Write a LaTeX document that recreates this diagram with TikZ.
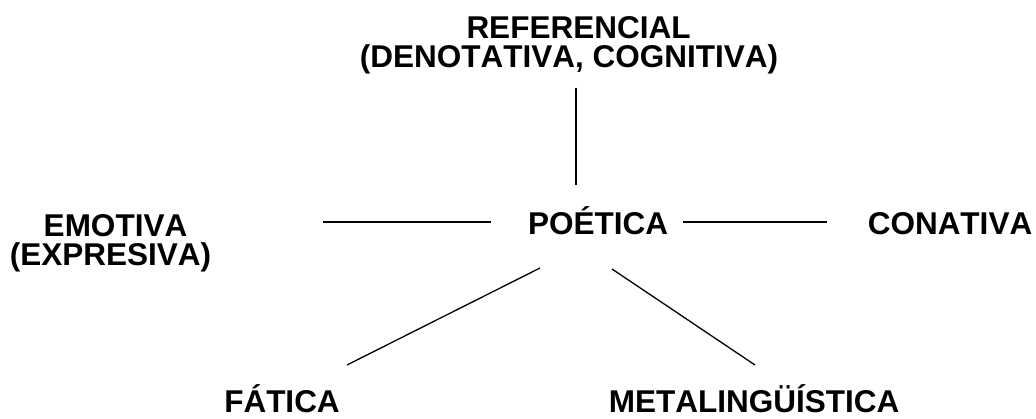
\documentclass[tikz,border=0pt]{standalone}
\usepackage{fontspec}
\setmainfont{Liberation Sans}[Kerning=Off]
\begin{document}
\begin{tikzpicture}[x=1pt,y=-1pt,
  fn/.style={font=\fontsize{31.5}{31}\selectfont\bfseries, inner sep=0pt, align=center, anchor=base},
  link/.style={draw=black, line width=1.3pt}]
  \useasboundingbox[fill=white] (0,0) rectangle (1036,419);

  % functions of language (base anchor = baseline of the last line)
  \node[fn] (ref)  at (569,68)  {\hspace*{19pt}REFERENCIAL\\[-1.5pt](DENOTATIVA, COGNITIVA)};
  \node[fn] (emo)  at (110.5,266) {\hspace*{10pt}EMOTIVA\\[-1.5pt](EXPRESIVA)};
  \node[fn] (poet) at (598,235) {POÉTICA};
  \node[fn] (con)  at (950,235) {CONATIVA};
  \node[fn] (fat)  at (282,413) {FÁTICA};
  \node[fn] (meta) at (754,413) {METALINGÜÍSTICA};

  % connector ends
  \coordinate (refS)   at (576,88);
  \coordinate (poetN)  at (576,185);
  \coordinate (emoE)   at (323,222);
  \coordinate (poetW)  at (491,222);
  \coordinate (poetE)  at (683,222);
  \coordinate (conW)   at (827,222);
  \coordinate (poetSW) at (540,268);
  \coordinate (fatN)   at (347,365);
  \coordinate (poetSE) at (612,269);
  \coordinate (metaN)  at (755,365);

  \draw[link] (refS) -- (poetN);
  \draw[link] (emoE) -- (poetW);
  \draw[link] (poetE) -- (conW);
  \draw[link] (poetSW) -- (fatN);
  \draw[link] (poetSE) -- (metaN);
\end{tikzpicture}
\end{document}
